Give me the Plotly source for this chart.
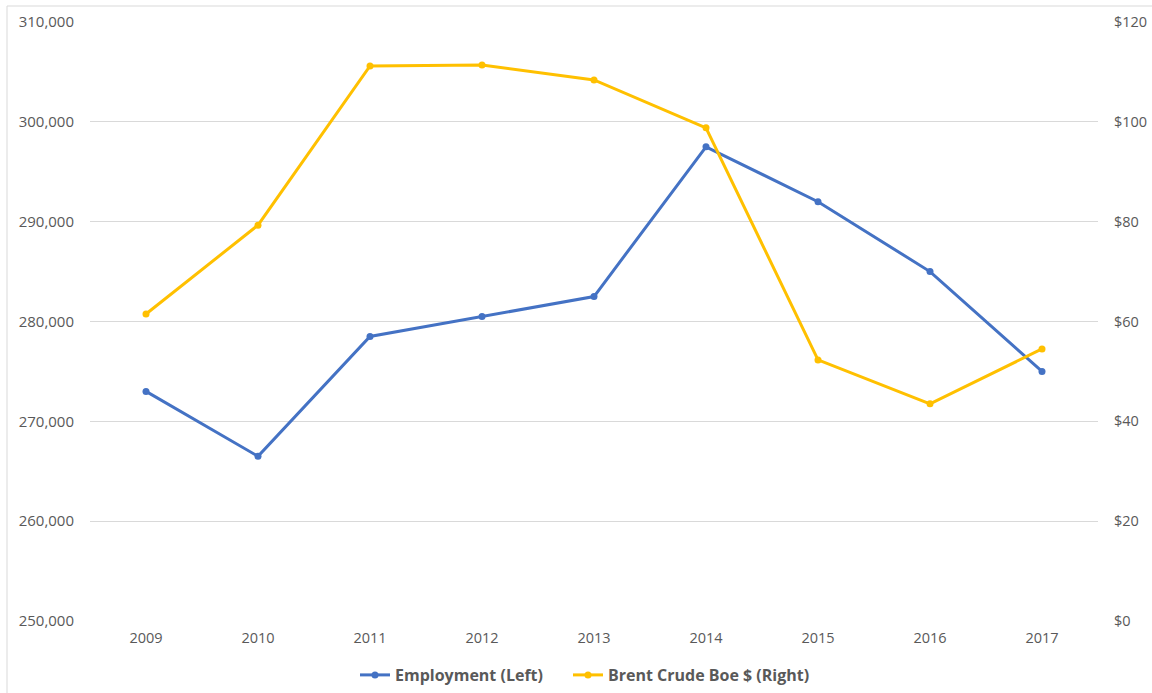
import plotly.graph_objects as go

years = ["2009", "2010", "2011", "2012", "2013", "2014", "2015", "2016", "2017"]
employment = [273000, 266500, 278500, 280500, 282500, 297500, 292000, 285000, 275000]
brent = [61.5, 79.3, 111.2, 111.4, 108.4, 98.8, 52.3, 43.5, 54.5]

left_ticks = [250000, 260000, 270000, 280000, 290000, 300000, 310000]
left_labels = ["250,000", "260,000", "270,000", "280,000", "290,000", "300,000", "310,000"]
right_ticks = [0, 20, 40, 60, 80, 100, 120]
right_labels = ["$0", "$20", "$40", "$60", "$80", "$100", "$120"]

fig = go.Figure()
fig.add_trace(go.Scatter(
    x=years, y=employment, name="Employment (Left)", mode="lines+markers",
    line=dict(color="#4472C4", width=3), marker=dict(size=7, color="#4472C4"),
    yaxis="y", legend="legend"))
fig.add_trace(go.Scatter(
    x=years, y=brent, name="Brent Crude Boe $ (Right)", mode="lines+markers",
    line=dict(color="#FFC000", width=3), marker=dict(size=7, color="#FFC000"),
    yaxis="y2", legend="legend2"))

xfont = dict(family="Open Sans", size=14.5, color="#595959")
yfont = dict(family="Open Sans", size=15, color="#595959")
y2font = dict(family="Open Sans", size=14.5, color="#595959")
lfont = dict(family="Open Sans", size=16, color="#595959", weight="bold")

W, H = 1152, 693
L, T = 90, 22
R = W - 1098
B = H - 621
pw, ph = W - L - R, H - T - B

def px_x(v):
    return (v - 90) / pw

def px_y(v):
    return (621 - v) / ph

fig.update_layout(
    width=W, height=H,
    margin=dict(l=L, r=R, t=T, b=B, autoexpand=False),
    paper_bgcolor="white", plot_bgcolor="white",
    showlegend=True,
    legend=dict(orientation="h", x=px_x(355), xanchor="left", y=px_y(675),
                yanchor="middle", font=lfont, itemwidth=30),
    legend2=dict(orientation="h", x=px_x(568), xanchor="left", y=px_y(675),
                 yanchor="middle", font=lfont, itemwidth=30),
    xaxis=dict(type="category", range=[-0.5, 8.5], showgrid=False, showline=False,
               ticks="", tickfont=xfont, ticklabelstandoff=6, zeroline=False,
               automargin=False),
    yaxis=dict(range=[250000, 310000], tickvals=left_ticks, ticktext=left_labels,
               showgrid=True, gridcolor="#d9d9d9", gridwidth=1, zeroline=False,
               showline=False, tickfont=yfont, ticklabelstandoff=15,
               automargin=False),
    yaxis2=dict(range=[0, 120], tickvals=right_ticks, ticktext=right_labels,
                overlaying="y", side="right", showgrid=False, zeroline=False,
                showline=False, tickfont=y2font, ticklabelstandoff=15,
                automargin=False),
    shapes=[
        dict(type="line", xref="paper", yref="paper",
             x0=px_x(7), x1=px_x(7), y0=px_y(700), y1=px_y(6),
             line=dict(color="#d9d9d9", width=1), layer="below"),
        dict(type="line", xref="paper", yref="paper",
             x0=px_x(7), x1=px_x(1160), y0=px_y(6), y1=px_y(6),
             line=dict(color="#d9d9d9", width=1), layer="below"),
    ],
)

fig.write_html(
    "out.html",
    config={"displayModeBar": False},
    post_script="document.body.style.margin='0';document.body.style.overflow='hidden';"
                "document.documentElement.style.overflow='hidden';",
)
